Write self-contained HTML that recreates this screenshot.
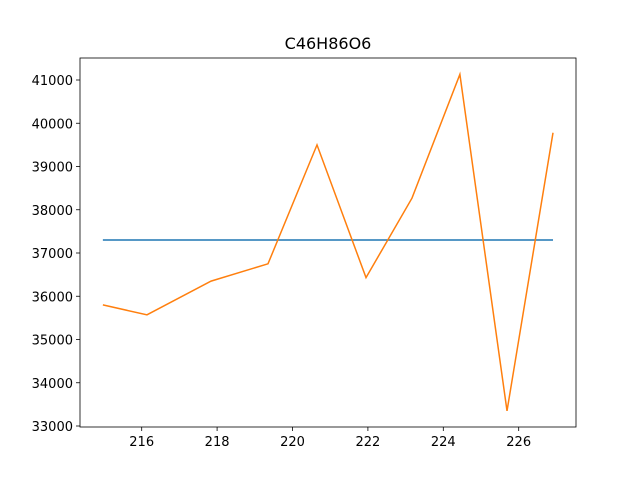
<!DOCTYPE html>
<html><head><meta charset="utf-8"><style>body{margin:0;background:#fff}svg{display:block;font-family:"DejaVu Sans","Liberation Sans",sans-serif}</style></head>
<body>
<svg id="c" width="640" height="480" viewBox="0 0 640 480"></svg>
<script>
const xValues=[214.97,216.14,217.84,219.35,220.65,221.95,223.17,224.44,225.69,226.91];
const yValues=[35800,35570,36350,36750,39500,36430,38270,41130,33350,39780];
const refValue=37300;
const xTicks=[216,218,220,222,224,226];
const yTicks=[33000,34000,35000,36000,37000,38000,39000,40000,41000];
const title="C46H86O6";
const NS="http://www.w3.org/2000/svg";
const svg=document.getElementById('c');
const L=80,R=576,T=58,B=427;
const X=v=>141.7+(v-216)*37.7;
const Y=v=>426-(v-33000)*0.043250;
function el(t,a,p){const e=document.createElementNS(NS,t);for(const k in a)e.setAttribute(k,a[k]);(p||svg).appendChild(e);return e;}
const bg=el('rect',{x:L,y:T,width:R-L,height:B-T,fill:'#fff',stroke:'none'});


const t=el('text',{x:(L+R)/2,y:49,'text-anchor':'middle','font-size':16,fill:'#000'});t.textContent=title;


const gx=el('g',{});


xTicks.forEach(v=>{el('line',{x1:X(v),x2:X(v),y1:B,y2:B+4,stroke:'#000','stroke-width':0.8},gx);const s=el('text',{x:X(v),y:B+19,'text-anchor':'middle','font-size':13},gx);s.textContent=v;});
const gy=el('g',{});


yTicks.forEach(v=>{el('line',{x1:L-4,x2:L,y1:Y(v),y2:Y(v),stroke:'#000','stroke-width':0.8},gy);const s=el('text',{x:L-7,y:Y(v)+5,'text-anchor':'end','font-size':13},gy);s.textContent=v;});
const h=el('line',{x1:X(xValues[0]),x2:X(xValues[xValues.length-1]),y1:Y(refValue),y2:Y(refValue),stroke:'#1f77b4','stroke-width':1.5});


const pl=el('polyline',{points:xValues.map((x,i)=>X(x)+','+Y(yValues[i])).join(' '),fill:'none',stroke:'#ff7f0e','stroke-width':1.5});


const fr=el('rect',{x:L,y:T,width:R-L,height:B-T,fill:'none',stroke:'#000','stroke-width':0.8});


</script>
</body></html>
